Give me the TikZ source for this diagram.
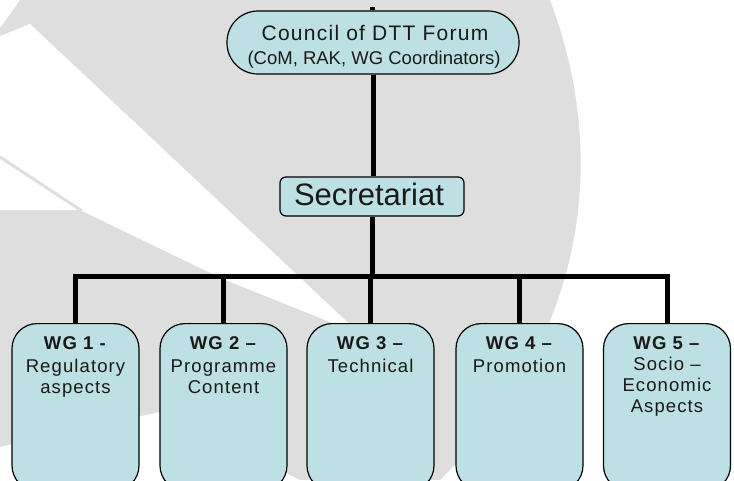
\documentclass[tikz,border=0pt]{standalone}
\usepackage{fontspec}
\setmainfont{Liberation Sans}
\newfontfamily\spacedfont[LetterSpace=6]{Liberation Sans}
\newfontfamily\councilfont[LetterSpace=6]{Liberation Sans}
\definecolor{bggray}{RGB}{222,222,222}
\definecolor{boxfill}{RGB}{188,224,227}
\definecolor{inkcol}{RGB}{25,25,25}
\tikzset{
  box/.style={draw=black, line width=1.2pt, fill=boxfill, inner sep=0pt},
  councilbox/.style={box, rounded corners=31pt, minimum width=292pt, minimum height=63pt},
  secbox/.style={box, rounded corners=6pt, minimum width=184pt, minimum height=39pt},
  wgbox/.style={box, rounded corners=25pt, minimum width=127pt, minimum height=167pt, anchor=north},
  wgtext/.style={anchor=north, align=center, inner sep=0pt, text=inkcol, font=\spacedfont\fontsize{18.5}{21}\selectfont},
  conn/.style={line width=5pt, draw=black},
  lbl/.style={anchor=base, inner sep=0pt, text=inkcol},
}
\begin{document}
\begin{tikzpicture}[x=1pt,y=-1pt]
\useasboundingbox (0,0) rectangle (734,480);
\clip (0,0) rectangle (734,480);
% watermark background
\fill[bggray] (0,0) rectangle (734,480);
\fill[white] (550,0) .. controls (600,130) and (605,320) .. (440,480) -- (734,480) -- (734,0) -- cycle;
\fill[white] (0,36) -- (30,24) -- (360,334) -- (223,279) -- (80,210) -- (0,210) -- cycle;
\draw[bggray, line width=3pt] (0,157) -- (82,211);
\fill[white] (0,0) -- (20,0) -- (0,28) -- cycle;
\fill[white] (0,447) -- (160,412) -- (300,480) -- (0,480) -- cycle;
% boxes
\node[councilbox] (council) at (373,42.5) {};
\node[secbox] (sec) at (372,196.5) {};
\node[wgbox] (wg1) at (75.5,323) {};
\node[wgbox] (wg2) at (223.5,323) {};
\node[wgbox] (wg3) at (370.5,323) {};
\node[wgbox] (wg4) at (519.5,323) {};
\node[wgbox] (wg5) at (667,323) {};
% connectors
\coordinate (stub) at (372,7);
\coordinate (busL) at (75.5,276);
\draw[conn] (stub) -- (stub |- council.north);
\draw[conn] (council.south) -- (council.south |- sec.north);
\draw[conn] (sec.south) -- (sec.south |- busL);
\draw[conn, line join=miter] (wg1.north) -- (wg1.north |- busL) -- (wg5.north |- busL) -- (wg5.north);
\foreach \i in {2,3,4} { \draw[conn] (wg\i.north |- busL) -- (wg\i.north); }
% texts
\node[lbl, font=\councilfont\fontsize{21}{24}\selectfont] (ct1) at (375,40) {Council of DTT Forum};
\node[lbl, font=\fontsize{18.5}{22}\selectfont] (ct2) at (374,64) {(CoM, RAK, WG Coordinators)};
\node[lbl, font=\fontsize{31}{36}\selectfont] (sect) at (369,205.7) {Secretariat};
\node[wgtext] (wg1t) at ([yshift=-12.9pt]wg1.north) {\textbf{WG 1 -}\\[2pt]Regulatory\\aspects};
\node[wgtext] (wg2t) at ([yshift=-12.9pt]wg2.north) {\textbf{WG 2 –}\\[2pt]Programme\\Content};
\node[wgtext] (wg3t) at ([yshift=-12.9pt]wg3.north) {\textbf{WG 3 –}\\[2pt]Technical};
\node[wgtext] (wg4t) at ([yshift=-12.9pt]wg4.north) {\textbf{WG 4 –}\\[2pt]Promotion};
\node[wgtext] (wg5t) at ([yshift=-12.9pt]wg5.north) {\textbf{WG 5 –}\\[0pt]Socio –\\Economic\\Aspects};
\end{tikzpicture}
\end{document}
